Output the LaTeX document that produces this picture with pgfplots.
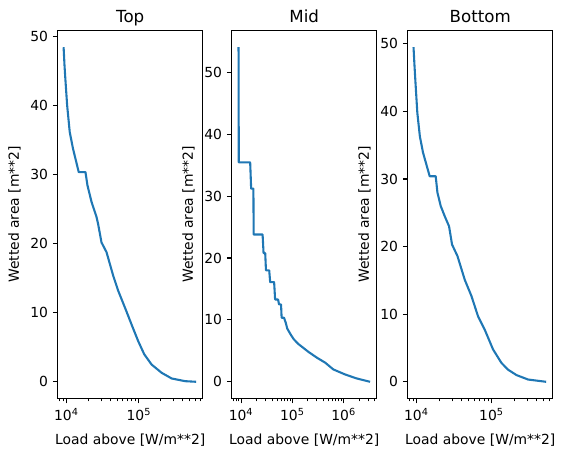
\documentclass[border=0pt]{standalone}
\usepackage{fontspec}
\setmainfont{DejaVu Sans}
\usepackage{pgfplots}
\pgfplotsset{compat=1.18}
\definecolor{mplblue}{HTML}{1F77B4}
\pgfplotsset{
  panel/.style={
    scale only axis, width=104.4pt, height=264.96pt,
    anchor=south west,
    tick align=outside, xtick pos=left, ytick pos=left,
    major tick length=3.5pt, minor tick length=2pt,
    major tick style={black, line width=0.8pt},
    minor tick style={black, line width=0.6pt},
    axis line style={line width=0.8pt},
    /pgf/number format/assume math mode=true,
    ytick={0,10,20,30,40,50},
    xlabel={Load above [W/m**2]}, ylabel={Wetted area [m**2]},
    title style={font=\fontsize{12}{14}\selectfont, at={(0.5,1)}, anchor=base},
    xlabel style={yshift=-3pt},
    label style={font=\fontsize{10}{12}\selectfont},
    tick label style={font=\fontsize{10}{12}\selectfont},
  },
  curve/.style={mplblue, line width=1.5pt, line join=round, mark=none},
}
\begin{document}
\begin{tikzpicture}
\path[use as bounding box] (-41.54pt,-42.12pt) rectangle (363.8pt,286.92pt);

\begin{semilogxaxis}[panel, at={(0pt,0pt)}, title={Top},
  xmin=7586, xmax=758578, ymin=-2.425, ymax=50.925,
  xtick={1e4,1e5}, xticklabels={10\textsuperscript{4},10\textsuperscript{5}},
  minor xtick={8000,9000,20000,30000,40000,50000,60000,70000,80000,90000,200000,300000,400000,500000,600000,700000}]
\addplot[curve] coordinates {
(9150,48.5) (9400,46.0) (9661,44.0) (10233,40.1) (11117,36.2) (12331,33.8) (14791,30.4)
(18323,30.4) (19498,28.5) (22182,26.1) (26002,23.9) (27353,22.9) (30479,20.2)
(35727,18.8) (44157,15.4) (51761,13.2) (63973,10.8) (79250,8.3) (97724,5.9)
(118304,4.0) (149624,2.5) (206063,1.3) (283139,0.48) (432514,0.09) (615177,0.0)
};
\end{semilogxaxis}

\begin{semilogxaxis}[panel, at={(125.28pt,0pt)}, title={Mid},
  xmin=6561, xmax=4.406e6, ymin=-2.70, ymax=56.75,
  xtick={1e4,1e5,1e6}, xticklabels={10\textsuperscript{4},10\textsuperscript{5},10\textsuperscript{6}},
  minor xtick={7000,8000,9000,20000,30000,40000,50000,60000,70000,80000,90000,200000,300000,400000,500000,600000,700000,800000,900000,2e6,3e6,4e6}]
\addplot[curve] coordinates {
(8913,54.05) (9016,35.45) (15031,35.45) (15704,31.2) (17378,31.2) (17579,23.8)
(26242,23.8) (27416,20.8) (29512,20.8) (30549,18.0) (35318,18.0) (36898,16.1)
(44055,16.1) (46026,13.3) (52481,13.3) (54954,12.5) (60117,12.5) (61660,10.35)
(68707,10.35) (74131,9.55) (79433,8.6) (92257,7.66) (106905,6.85) (133352,6.05)
(207491,4.81) (299916,3.9) (434510,3.1) (628058,2.0) (1054433,1.2) (1761976,0.56)
(3273407,0.0)
};
\end{semilogxaxis}

\begin{semilogxaxis}[panel, at={(252pt,0pt)}, title={Bottom},
  xmin=7656, xmax=656000, ymin=-2.47, ymax=51.96,
  xtick={1e4,1e5}, xticklabels={10\textsuperscript{4},10\textsuperscript{5}},
  minor xtick={8000,9000,20000,30000,40000,50000,60000,70000,80000,90000,200000,300000,400000,500000,600000}]
\addplot[curve] coordinates {
(9150,49.5) (9400,47.0) (9661,44.7) (10280,39.8) (11117,36.3) (12246,33.9) (15031,30.4)
(18072,30.4) (19055,28.0) (21086,26.0) (23823,24.5) (27227,23.0) (29854,20.3)
(35237,18.6) (44055,15.1) (54075,12.7) (66222,9.7) (81470,7.7) (104954,4.8)
(135831,2.8) (166341,1.8) (215278,1.0) (307610,0.34) (535797,0.0)
};
\end{semilogxaxis}
\end{tikzpicture}
\end{document}
